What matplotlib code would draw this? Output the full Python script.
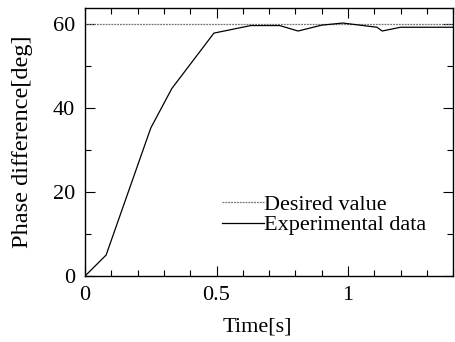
import numpy as np
import matplotlib.pyplot as plt
from matplotlib.ticker import MultipleLocator

### data
timeExp  = [0, 0.08, 0.25, 0.33, 0.49, 0.63, 0.74, 0.81, 0.90, 0.98, 1.11, 1.13, 1.20, 1.40]
phaseExp = [0, 5.0, 35.3, 44.7, 57.9, 59.7, 59.7, 58.4, 59.8, 60.3, 59.3, 58.4, 59.3, 59.3]
desired  = 60
xLabel   = 'Time[s]'
yLabel   = 'Phase difference[deg]'

plt.rcParams['font.family'] = ['Liberation Serif', 'DejaVu Serif']
plt.rcParams['font.size'] = 16

fig = plt.figure(figsize=(4.55, 3.42), dpi=100)
ax = fig.add_axes([0.187, 0.193, 0.809, 0.785])

ax.axhline(desired, color='0.45', lw=0.9, ls=(0, (1.5, 0.8)), label='Desired value')
ax.plot(timeExp, phaseExp, color='black', lw=0.9, label='Experimental data')

ax.set_xlim(0, 1.4)
ax.set_ylim(0, 64)
ax.xaxis.set_major_locator(MultipleLocator(0.5))
ax.xaxis.set_minor_locator(MultipleLocator(0.1))
ax.yaxis.set_major_locator(MultipleLocator(20))
ax.yaxis.set_minor_locator(MultipleLocator(10))
ax.set_xticks([0, 0.5, 1])
ax.set_xticklabels(['0', '0.5', '1'])
ax.tick_params(which='both', direction='in', top=True, right=True, width=0.8)
ax.tick_params(which='major', length=7, pad=7)
ax.tick_params(which='minor', length=4)
for s in ax.spines.values():
    s.set_linewidth(1.0)

ax.set_xlabel(xLabel, fontsize=16)
ax.xaxis.set_label_coords(0.469, -0.155)
ax.set_ylabel(yLabel, fontsize=17.6)
ax.yaxis.set_label_coords(-0.141, 0.5)

ax.legend(loc='upper left', bbox_to_anchor=(0.372, 0.304), frameon=False,
          handlelength=1.9, handletextpad=0.0, labelspacing=0.0,
          borderaxespad=0, borderpad=0, fontsize=16)

fig.savefig('out.png', dpi=100)
